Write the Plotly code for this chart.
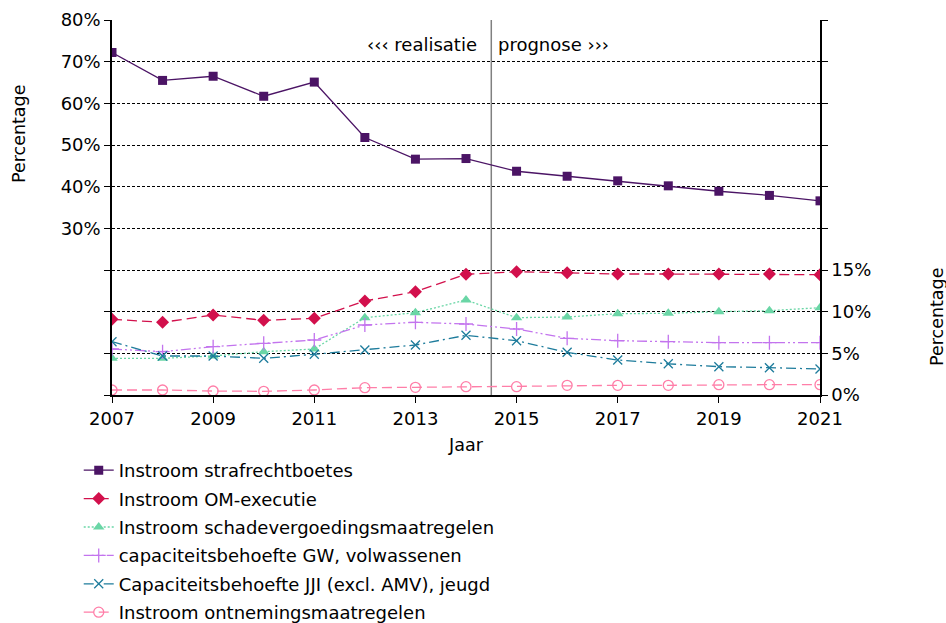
import plotly.graph_objects as go

years = list(range(2007, 2022))
straf = [72.2, 65.5, 66.5, 61.7, 65.1, 51.8, 46.6, 46.75, 43.7, 42.5, 41.4, 40.2, 38.9, 37.9, 36.6]
om = [9.08, 8.72, 9.6, 8.96, 9.2, 11.28, 12.4, 14.49, 14.8, 14.68, 14.52, 14.52, 14.52, 14.52, 14.44]
schade = [4.4, 4.4, 4.68, 5.2, 5.52, 9.28, 9.88, 11.4, 9.28, 9.36, 9.76, 9.8, 10.0, 10.12, 10.48]
gw = [5.52, 5.2, 5.8, 6.2, 6.6, 8.4, 8.72, 8.52, 7.92, 6.8, 6.52, 6.4, 6.28, 6.28, 6.28]
jji = [6.4, 4.68, 4.68, 4.4, 4.88, 5.4, 6.0, 7.16, 6.52, 5.12, 4.2, 3.74, 3.4, 3.28, 3.12]
ont = [0.6, 0.6, 0.48, 0.44, 0.6, 0.88, 0.92, 1.0, 1.0, 1.16, 1.16, 1.16, 1.24, 1.24, 1.24]

names = [
    "Instroom strafrechtboetes",
    "Instroom OM-executie",
    "Instroom schadevergoedingsmaatregelen",
    "capaciteitsbehoefte GW, volwassenen",
    "Capaciteitsbehoefte JJI (excl. AMV), jeugd",
    "Instroom ontnemingsmaatregelen",
]
left_ticks = [-10, 0, 10, 20, 30, 40, 50, 60, 70, 80]
left_labels = ["", "", "", "", "30%", "40%", "50%", "60%", "70%", "80%"]
right_ticks = [0, 5, 10, 15, 20, 25, 30, 35, 40, 45]
right_labels = ["0%", "5%", "10%", "15%", "", "", "", "", "", ""]
x_ticks = [2007, 2009, 2011, 2013, 2015, 2017, 2019, 2021]
split_year = 2014.5

FONT = "DejaVu Sans, Verdana, sans-serif"

# body margin is removed in the page, so figure pixels == page pixels
W, H = 946, 623
L, T = 112, 20
pw, ph = 708, 375
R = W - L - pw
B = H - T - ph


def px_to_paper(px, py):
    return (px - L) / pw, (H - B - py) / ph


fig = go.Figure()

fig.add_trace(go.Scatter(
    x=years, y=straf, name=names[0], mode="lines+markers", yaxis="y",
    legendgroup="a",
    line=dict(color="#4B1465", width=1.3),
    marker=dict(symbol="square", size=9, color="#4B1465"),
))
fig.add_trace(go.Scatter(
    x=years, y=om, name=names[1], mode="lines+markers", yaxis="y2",
    legendgroup="b",
    line=dict(color="#D2104C", width=1.3, dash="10px,5px"),
    marker=dict(symbol="diamond", size=10, color="#D2104C"),
))
fig.add_trace(go.Scatter(
    x=years, y=schade, name=names[2], mode="lines+markers", yaxis="y2",
    legendgroup="c",
    line=dict(color="#6AD6A6", width=1.3, dash="2px,2px"),
    marker=dict(symbol="triangle-up", size=10, color="#6AD6A6"),
))
fig.add_trace(go.Scatter(
    x=years, y=gw, name=names[3], mode="lines+markers", yaxis="y2",
    legendgroup="d",
    line=dict(color="#C374EE", width=1.3, dash="10px,3px,2px,3px,2px,3px"),
    marker=dict(symbol="cross-thin", size=10, color="#C374EE",
                line=dict(width=1.3, color="#C374EE")),
))
fig.add_trace(go.Scatter(
    x=years, y=jji, name=names[4], mode="lines+markers", yaxis="y2",
    legendgroup="e",
    line=dict(color="#1E7C9C", width=1.3, dash="10px,4px,2px,4px"),
    marker=dict(symbol="x-thin", size=9, color="#1E7C9C",
                line=dict(width=1.3, color="#1E7C9C")),
))
fig.add_trace(go.Scatter(
    x=years, y=ont, name=names[5], mode="lines+markers", yaxis="y2",
    legendgroup="f",
    line=dict(color="#FF7EA8", width=1.3, dash="10px,5px"),
    marker=dict(symbol="circle-open", size=10, color="#FF7EA8",
                line=dict(width=1.3, color="#FF7EA8")),
))

fig.add_shape(type="line", x0=split_year, x1=split_year, xref="x",
              y0=0, y1=1, yref="paper", layer="between",
              line=dict(color="#808080", width=1.5))

fig.add_annotation(x=split_year, xref="x", y=0.967, yref="paper",
                   text="‹‹‹ realisatie", showarrow=False,
                   xanchor="right", xshift=-12, font=dict(size=18))
fig.add_annotation(x=split_year, xref="x", y=0.967, yref="paper",
                   text="prognose ›››", showarrow=False,
                   xanchor="left", xshift=5, font=dict(size=18))

ax, ay = px_to_paper(19, 134)
fig.add_annotation(x=ax, xref="paper", xanchor="center", y=ay, yref="paper",
                   yanchor="middle", text="Percentage", showarrow=False,
                   textangle=-90, font=dict(size=17.5))
ax, ay = px_to_paper(937, 317)
fig.add_annotation(x=ax, xref="paper", xanchor="center", y=ay, yref="paper",
                   yanchor="middle", text="Percentage", showarrow=False,
                   textangle=-90, font=dict(size=17.5))

fig.update_layout(
    width=W, height=H,
    margin=dict(l=L, r=R, t=T, b=B, autoexpand=False),
    paper_bgcolor="white", plot_bgcolor="white",
    font=dict(family=FONT, size=18, color="#000000"),
    xaxis=dict(
        range=[2007, 2021], tickvals=x_ticks, ticks="outside", ticklen=6,
        tickcolor="#000", showgrid=False, zeroline=False,
        showline=True, linecolor="#000", linewidth=2,
        title=dict(text="Jaar", font=dict(size=17.5), standoff=11),
        tickfont=dict(size=18),
    ),
    yaxis=dict(
        range=[-10, 80], tickvals=left_ticks, ticktext=left_labels,
        ticks="outside", ticklen=6, tickcolor="#000",
        showgrid=True, gridcolor="#000", gridwidth=1, griddash="3px,2px",
        zeroline=False, showline=True, linecolor="#000", linewidth=1.5,
        tickfont=dict(size=18),
    ),
    yaxis2=dict(
        range=[0, 45], tickvals=right_ticks, ticktext=right_labels,
        overlaying="y", side="right", anchor="x",
        ticks="outside", ticklen=6, tickcolor="#000",
        showgrid=False, zeroline=False, showline=True,
        linecolor="#000", linewidth=1.5, tickfont=dict(size=18),
    ),
    showlegend=True,
    legend=dict(
        x=-0.047, xanchor="left", y=-0.152, yanchor="top",
        orientation="v", traceorder="grouped", tracegroupgap=2,
        font=dict(size=18), bgcolor="rgba(0,0,0,0)",
        itemwidth=30,
    ),
)

fig.write_html(
    "out.html",
    config={"displayModeBar": False},
    post_script="document.body.style.margin='0px';"
                "document.body.style.overflow='hidden';",
)
